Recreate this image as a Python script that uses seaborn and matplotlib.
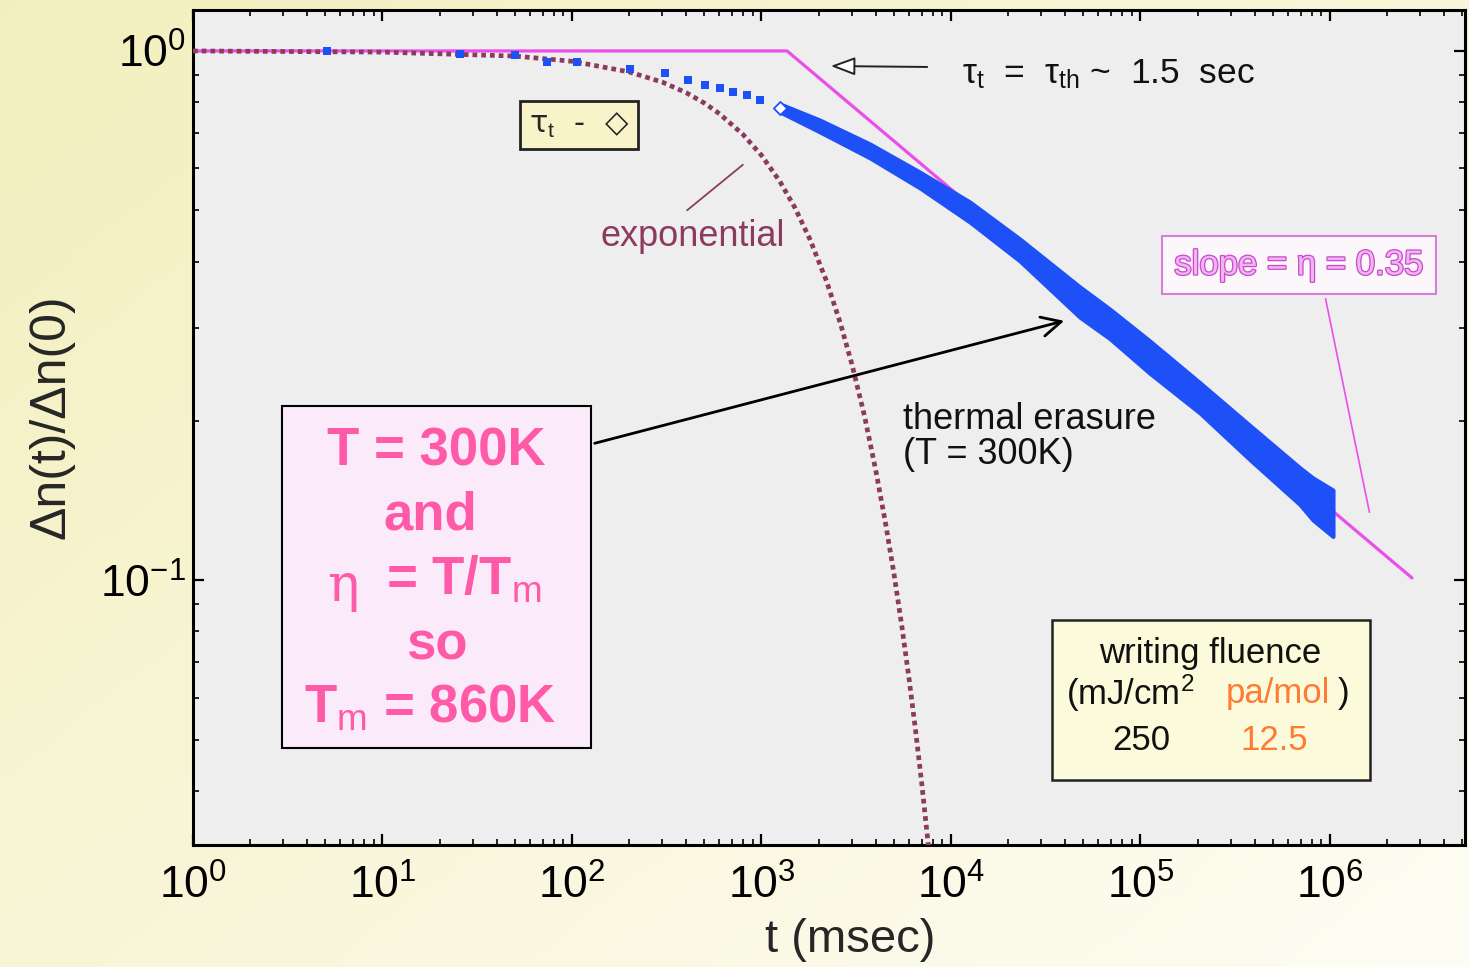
import numpy as np
import matplotlib
matplotlib.use("Agg")
import matplotlib.pyplot as plt
import matplotlib.patheffects as pe
from matplotlib.patches import Rectangle
from matplotlib.ticker import LogLocator, NullFormatter, LogFormatterSciNotation
import seaborn as sns

# ---------------- data ----------------
# early decay points, t in msec, normalised index change
early_t = [5.1, 25.6, 50, 74, 106, 202, 310, 409, 503, 604, 708, 838, 982]
early_y = [1.0, 0.987, 0.983, 0.953, 0.953, 0.925, 0.909, 0.882, 0.863, 0.851, 0.837, 0.826, 0.808]

# transition time tau_t
tau_t_x = [1252]
tau_t_y = [0.780]

# dense thermal-erasure record: time, upper and lower envelope
band_t = [1252, 2036, 3737, 6862, 12600, 23130, 47950, 69050, 112200, 206100,
          378300, 694600, 813600, 1037000]
band_hi = [0.794, 0.740, 0.667, 0.590, 0.518, 0.441, 0.358, 0.325, 0.283, 0.236,
           0.196, 0.163, 0.156, 0.148]
band_lo = [0.767, 0.703, 0.628, 0.551, 0.475, 0.401, 0.314, 0.286, 0.246, 0.207,
           0.169, 0.139, 0.130, 0.121]

# broken power-law guide: flat until tau_th, then power-law decay
model_t = [1, 1365, 2.71e6]
model_y = [1.0, 1.0, 0.101]

# single exponential decay for comparison
exp_t = [1, 10, 50, 100, 200, 300, 400, 500, 600, 800, 1000, 1250, 1500, 1800,
         2200, 2600, 3000, 3500, 4000, 4500, 5000, 5500, 6000, 6500, 7000, 7800]
exp_y = [1.0, 0.995, 0.978, 0.956, 0.913, 0.873, 0.834, 0.797, 0.761, 0.695, 0.635,
         0.567, 0.506, 0.441, 0.368, 0.307, 0.256, 0.204, 0.162, 0.129, 0.103,
         0.082, 0.0654, 0.0521, 0.0415, 0.0289]

x_decades = [1, 10, 100, 1e3, 1e4, 1e5, 1e6]
y_decades = [0.1, 1]

# ---------------- style ----------------
sns.set_theme(style="ticks")
plt.rcParams["font.family"] = ["Liberation Sans", "DejaVu Sans"]
plt.rcParams["mathtext.fontset"] = "custom"
plt.rcParams["mathtext.rm"] = "Liberation Sans"
plt.rcParams["mathtext.it"] = "Liberation Sans:italic"
plt.rcParams["mathtext.bf"] = "Liberation Sans:bold"

W, H = 1469, 967
fig = plt.figure(figsize=(W / 100, H / 100), dpi=100)

BLUE = "#1e50f8"
MAGENTA = "#e94fe9"
MAROON = "#8c3b5e"
PINK = "#ff5aa8"
ORANGE = "#ff7a33"


def fxy(x, y):
    """figure-pixel position measured from the top-left corner -> figure fraction"""
    return x / W, 1 - y / H


# cream background wash
bg = fig.add_axes([0, 0, 1, 1], zorder=-10)
bg.axis("off")
gx, gy = np.meshgrid(np.linspace(0, 1, 160), np.linspace(0, 1, 110))
w = np.clip(0.55 * gx + 0.45 * gy, 0, 1)[..., None]
c1 = np.array([0.953, 0.937, 0.745])
c2 = np.array([0.996, 0.992, 0.955])
bg.imshow(c1 * (1 - w) + c2 * w, aspect="auto", extent=[0, 1, 0, 1])

left, right, bottom, top = 193, 1465, 845, 10
ax = fig.add_axes([left / W, 1 - bottom / H, (right - left) / W, (bottom - top) / H])
ax.set_facecolor("#eeeeee")
ax.set_xscale("log")
ax.set_yscale("log")

# guide line and exponential
sns.lineplot(x=model_t, y=model_y, ax=ax, color=MAGENTA, lw=2.3, zorder=2)
sns.lineplot(x=exp_t, y=exp_y, ax=ax, color=MAROON, lw=3.4,
             linestyle=(0, (1, 0.85)), zorder=3)

# measured decay
ax.fill_between(band_t, band_lo, band_hi, color=BLUE, lw=3, edgecolor=BLUE,
                joinstyle="round", zorder=4)
sns.scatterplot(x=early_t, y=early_y, ax=ax, marker="s", s=36, color=BLUE,
                edgecolor="none", zorder=5)
sns.scatterplot(x=tau_t_x, y=tau_t_y, ax=ax, marker="D", s=45, color="white",
                edgecolor=BLUE, linewidth=1.3, zorder=6)

ax.set_xlim(1, 5.16e6)
ax.set_ylim(0.0316, 1.195)

ax.set_xticks(x_decades)
ax.set_yticks(y_decades)
for axis in (ax.xaxis, ax.yaxis):
    axis.set_minor_locator(LogLocator(base=10, subs=np.arange(2, 10), numticks=100))
    axis.set_minor_formatter(NullFormatter())
    axis.set_major_formatter(LogFormatterSciNotation())

ax.tick_params(which="both", direction="in", top=True, right=True, colors="black")
ax.tick_params(which="major", length=8, width=1.6, labelsize=32)
ax.tick_params(which="minor", length=4.5, width=1.2)
ax.tick_params(axis="x", which="major", pad=14)
ax.tick_params(axis="y", which="major", pad=5)
for sp in ax.spines.values():
    sp.set_linewidth(2.2)
    sp.set_color("black")

ax.set_xlabel("t (msec)", fontsize=34)
ax.xaxis.label.set_va("center")
ax.xaxis.set_label_coords((850 - left) / (right - left), (bottom - 940) / (bottom - top))
ax.set_ylabel("\u0394n(t)/\u0394n(0)", fontsize=36)
ax.yaxis.label.set_va("center")
ax.yaxis.set_label_coords((52 - left) / (right - left), (bottom - 417) / (bottom - top))

# ---------------- annotations ----------------
fig.text(*fxy(962, 83), r"τ$_{\mathrm{t}}$  =  τ$_{\mathrm{th}}$ ~  1.5  sec", fontsize=25.5,
         ha="left", va="baseline", color="#111111")
ax.annotate("", xy=fxy(828, 66), xycoords="figure fraction",
            xytext=fxy(930, 67), textcoords="figure fraction",
            arrowprops=dict(arrowstyle="-|>,head_length=0.75,head_width=0.28",
                            mutation_scale=20, fc="white", ec="#222222", lw=1.4))

fig.text(*fxy(579, 125), "τ$_{\\mathrm{t}}$  -  \u25c7", fontsize=22, ha="center", va="center",
         family=["DejaVu Sans"],
         bbox=dict(boxstyle="square,pad=0.3", fc="#f8f3c8", ec="#222222", lw=2))

fig.text(*fxy(693, 237), "exponential", fontsize=26, ha="center", va="center", color=MAROON)
ax.annotate("", xy=fxy(745, 163), xycoords="figure fraction",
            xytext=fxy(685, 212), textcoords="figure fraction",
            arrowprops=dict(arrowstyle="-", color=MAROON, lw=1.3))

fig.text(*fxy(903, 437), "thermal erasure\n(T = 300K)", fontsize=26, ha="left",
         va="center", linespacing=1.0, color="#111111")

sl = fig.text(*fxy(1299, 265), "slope = \u03b7 = 0.35", fontsize=25, ha="center", va="center",
              color="#f0b4f2",
              bbox=dict(boxstyle="square,pad=0.35", fc="#fbf7fb", ec="#d77ddb", lw=1.5))
sl.set_path_effects([pe.withStroke(linewidth=1.8, foreground="#c94acb")])
ax.annotate("", xy=fxy(1370, 515), xycoords="figure fraction",
            xytext=fxy(1325, 296), textcoords="figure fraction",
            arrowprops=dict(arrowstyle="-", color=MAGENTA, lw=1.2))

# pink summary box
x0, y0 = fxy(282, 748)
x1, y1 = fxy(591, 406)
ax.add_patch(Rectangle((x0, y0), x1 - x0, y1 - y0, transform=fig.transFigure,
                       fc="#fbebfa", ec="black", lw=1.5, clip_on=False, zorder=10))
bold = dict(fontsize=38, fontweight="bold", color=PINK, zorder=11)
fig.text(*fxy(436, 452), "T = 300K", ha="center", va="center", **bold)
fig.text(*fxy(430, 515), "and", ha="center", va="center", **bold)
fig.text(*fxy(343, 587), "\u03b7", ha="center", va="center", fontsize=38,
         family=["DejaVu Serif"], color=PINK, zorder=11)
fig.text(*fxy(386, 580), r"= T/T$_{\mathrm{m}}$", ha="left", va="center", **bold)
fig.text(*fxy(437, 645), "so", ha="center", va="center", **bold)
fig.text(*fxy(430, 708), r"T$_{\mathrm{m}}$ = 860K", ha="center", va="center", **bold)

ax.annotate("", xy=(40900, 0.310), xycoords="data",
            xytext=fxy(592, 444), textcoords="figure fraction",
            arrowprops=dict(arrowstyle="->,head_length=0.7,head_width=0.35",
                            mutation_scale=20, color="black", lw=2.0), zorder=12)

# writing fluence box
x0, y0 = fxy(1052, 780)
x1, y1 = fxy(1370, 620)
ax.add_patch(Rectangle((x0, y0), x1 - x0, y1 - y0, transform=fig.transFigure,
                       fc="#fbfbdc", ec="#222222", lw=1.8, clip_on=False, zorder=10))
fl = dict(fontsize=25, zorder=11, va="center")
fig.text(*fxy(1210, 653), "writing fluence", ha="center", color="#111111", **fl)
fig.text(*fxy(1066, 693), "(mJ/cm$^2$", ha="left", color="#111111", **fl)
fig.text(*fxy(1226, 693), "pa/mol", ha="left", color=ORANGE, **fl)
fig.text(*fxy(1338, 693), ")", ha="left", color="#111111", **fl)
fig.text(*fxy(1141, 741), "250", ha="center", color="#111111", **fl)
fig.text(*fxy(1274, 741), "12.5", ha="center", color=ORANGE, **fl)

fig.savefig("out.png", dpi=100)
